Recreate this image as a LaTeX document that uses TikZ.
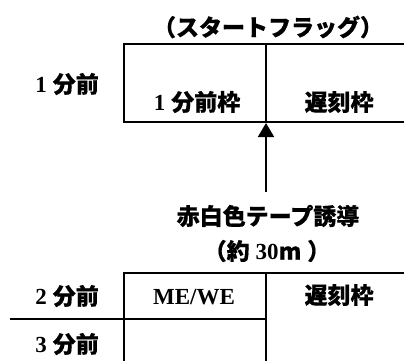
\documentclass[tikz,border=0pt]{standalone}
\usepackage{fontspec}
\setmainfont{Liberation Serif}
\newfontfamily\jp{Noto Sans CJK JP}[BoldFeatures={FakeBold=0.5}]
\usetikzlibrary{arrows.meta}
\newcommand{\lat}[1]{{\rmfamily\bfseries #1}}
\newcommand{\gap}{\hspace{6pt}}
\tikzset{
  lbl/.style={font=\jp\bfseries\fontsize{23}{26}\selectfont, inner sep=0pt, anchor=center},
  rule/.style={line width=2pt},
}
\begin{document}
\begin{tikzpicture}[x=1pt,y=-1pt]
\useasboundingbox (0,0) rectangle (404,360);
% top table
\draw[rule] (404,44) -- (124,44) -- (124,122) -- (404,122);
\draw[rule] (266,44) -- (266,122);
\coordinate (tip) at (266,123);
\coordinate (tail) at (266,192);
\draw[line width=1.8pt, -{Triangle[width=16pt,length=14pt]}] (tail) -- (tip);
% bottom table
\draw[rule] (404,273) -- (124,273) -- (124,362);
\draw[rule] (266,273) -- (266,362);
\draw[rule] (10,319) -- (266,319);
% labels
\node[lbl] (title) at (268,27) {（スタートフラッグ）};
\node[lbl] (row1) at (67,84) {\lat{1}\gap 分前};
\node[lbl] (early1) at (197,102) {\lat{1}\gap 分前枠};
\node[lbl] (late1) at (339,102) {遅刻枠};
\node[lbl] (tape) at (268,216) {赤白色テープ誘導};
\node[lbl] (dist) at (267,251) {（約\gap\lat{30}m\gap）};
\node[lbl] (row2) at (67,296) {\lat{2}\gap 分前};
\node[lbl] (mewe) at (194,297) {\lat{ME/WE}};
\node[lbl] (late2) at (339,295) {遅刻枠};
\node[lbl] (row3) at (67,344) {\lat{3}\gap 分前};
\end{tikzpicture}
\end{document}
